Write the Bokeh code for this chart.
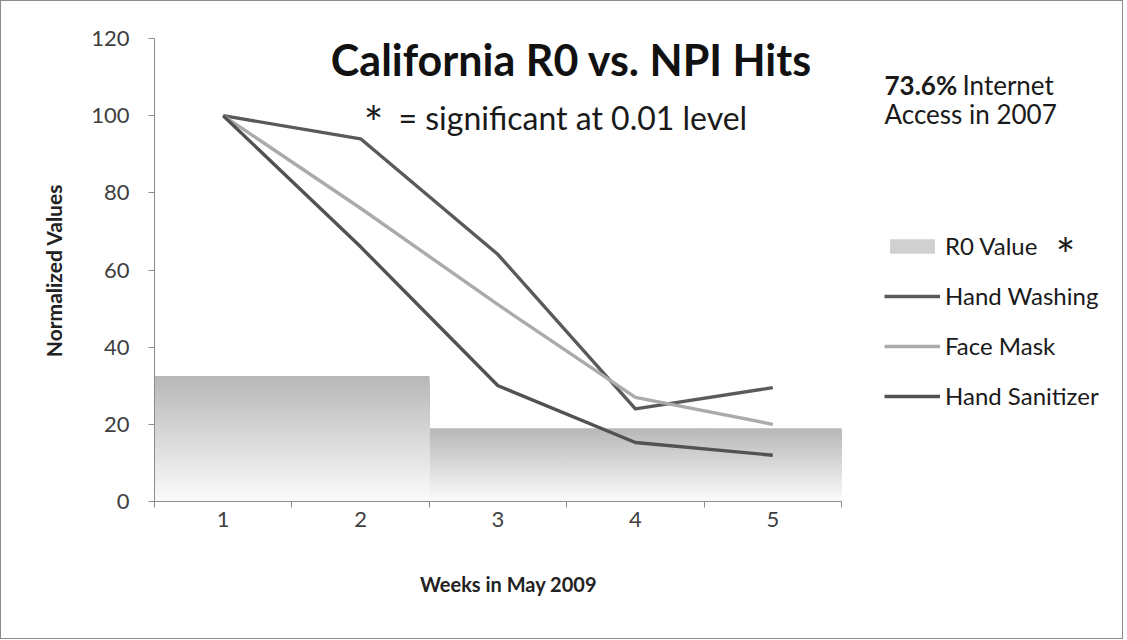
import math
from bokeh.plotting import figure
from bokeh.models import Label, Legend, LegendItem, FixedTicker, Range1d
from bokeh.embed import file_html
from bokeh.resources import INLINE

# ---- data ----
weeks = [1, 2, 3, 4, 5]
week_labels = ["1", "2", "3", "4", "5"]
r0_value = [32.5, 32.5, 19, 19, 19]
hand_washing = [100, 94, 64, 24, 29.5]
face_mask = [100, 76, 51, 27, 20]
hand_sanitizer = [100, 66, 30, 15.3, 12]
y_ticks = [0, 20, 40, 60, 80, 100, 120]

FONT = "Lato"

# ---- geometry: the frame covers the whole figure; axes sit at fixed data locations ----
W, H = 1123, 639
AX_L, AX_R, AX_T, AX_B = 153, 840, 37, 500     # pixel box of the data area (x 0.5..5.5, y 0..120)
x0, x1 = 0.5, 5.5
y0, y1 = 0, 120
ppx = (AX_R - AX_L) / (x1 - x0)
ppy = (AX_B - AX_T) / (y1 - y0)
x_range = Range1d(x0 - AX_L / ppx, x1 + (W - AX_R) / ppx)
y_range = Range1d(y0 - (H - AX_B) / ppy, y1 + AX_T / ppy)

p = figure(width=W, height=H, x_range=x_range, y_range=y_range,
           output_backend="svg", toolbar_location=None,
           min_border_left=0, min_border_right=0, min_border_top=0, min_border_bottom=0)
p.styles = {"border": "1px solid #8c8c8c"}
p.grid.visible = False
p.outline_line_color = None
p.background_fill_color = "white"
p.border_fill_color = "white"

# ---- R0 bars with vertical gradient (nested bars, top darker) ----
N = 40
top_c = (184, 184, 184)
bot_c = (252, 252, 252)
bar_renderers = []
for k in range(N):
    f = (N - k) / N
    c = tuple(int(round(bot_c[i] + (top_c[i] - bot_c[i]) * f)) for i in range(3))
    col = "#%02x%02x%02x" % c
    tops = [v * f for v in r0_value]
    r = p.vbar(x=weeks, top=tops, bottom=0, width=1.003, fill_color=col, line_color=None)
    bar_renderers.append(r)

# ---- lines ----
lw = 3.4
r_hw = p.line(weeks, hand_washing, line_color="#5a5a5a", line_width=lw, line_join="round")
r_fm = p.line(weeks, face_mask, line_color="#ababab", line_width=lw, line_join="round")
r_hs = p.line(weeks, hand_sanitizer, line_color="#525252", line_width=lw, line_join="round")

# ---- axes ----
ax_col = "#8c8c8c"
yax = p.yaxis[0]
yax.fixed_location = x0
yax.bounds = (y0, y1)
yax.ticker = FixedTicker(ticks=y_ticks)
yax.axis_line_color = ax_col
yax.major_tick_line_color = ax_col
yax.major_tick_out = 6
yax.major_tick_in = 0
yax.minor_tick_line_color = None
yax.major_label_text_font = FONT
yax.major_label_text_font_size = "22px"
yax.major_label_text_color = "#404040"
yax.major_label_standoff = 19

xax = p.xaxis[0]
xax.fixed_location = y0
xax.bounds = (x0, x1)
xax.ticker = FixedTicker(ticks=weeks, minor_ticks=[0.5, 1.5, 2.5, 3.5, 4.5, 5.5])
xax.major_label_overrides = {w: s for w, s in zip(weeks, week_labels)}
xax.axis_line_color = ax_col
xax.major_tick_line_color = None
xax.major_tick_out = 0
xax.major_tick_in = 0
xax.minor_tick_line_color = ax_col
xax.minor_tick_out = 6
xax.minor_tick_in = 0
xax.major_label_text_font = FONT
xax.major_label_text_font_size = "22px"
xax.major_label_text_color = "#404040"
xax.major_label_standoff = 4

# ---- texts (screen units from the frame's bottom-left = figure's bottom-left) ----
def lab(text, x_img, base_img, size, style="normal", align="left", color="#1a1a1a", angle=0.0,
        baseline="alphabetic"):
    fs = float(size.replace("px", ""))
    yy = base_img - 0.4 * fs if baseline == "alphabetic" else base_img
    l = Label(x=x_img, y=H - yy, x_units="screen", y_units="screen", text=text,
              text_font=FONT, text_font_size=size, text_font_style=style,
              text_align=align, text_baseline=baseline, text_color=color, angle=angle)
    p.add_layout(l)
    return l

lab("California R0 vs. NPI Hits", 570, 75, "43px", "bold", "center", color="#111111")
lab("*", 372, 139, "46px", "normal", "center")
lab("= significant at 0.01 level", 397, 129, "32px", "normal", "left")
lab("73.6%", 883, 94, "26px", "bold", "left")
lab("Internet", 961, 94, "26px", "normal", "left")
lab("Access in 2007", 883, 123, "26px", "normal", "left")
lab("Weeks in May 2009", 507, 590, "20px", "bold", "center", color="#222222")
lab("Normalized Values", 52, 269, "21px", "bold", "center", color="#222222",
    angle=math.pi / 2, baseline="middle")

# ---- legend ----
legend = Legend(items=[
    LegendItem(label="R0 Value", renderers=[bar_renderers[14]]),
    LegendItem(label="Hand Washing", renderers=[r_hw]),
    LegendItem(label="Face Mask", renderers=[r_fm]),
    LegendItem(label="Hand Sanitizer", renderers=[r_hs]),
], location=(883, H - 409))
legend.border_line_color = None
legend.background_fill_alpha = 0
legend.padding = 0
legend.margin = 0
legend.glyph_width = 56
legend.glyph_height = 18
legend.label_height = 28
legend.spacing = 21
legend.label_standoff = 5
legend.label_text_font = FONT
legend.label_text_font_size = "24px"
legend.label_text_color = "#1a1a1a"
p.add_layout(legend, "center")
lab("*", 1064, 271, "46px", "normal", "center")

open("out.html", "w").write(file_html(p, INLINE))
